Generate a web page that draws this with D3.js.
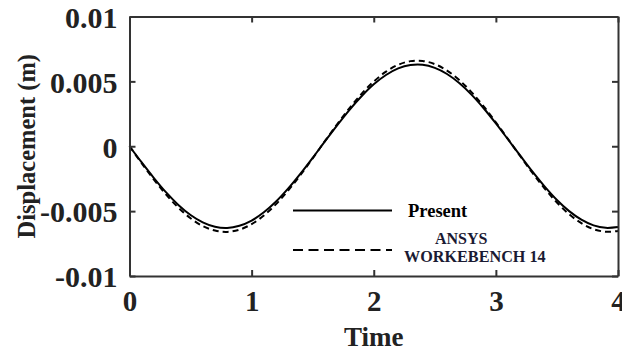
<!DOCTYPE html>
<html>
<head>
<meta charset="utf-8">
<script src="https://cdn.jsdelivr.net/npm/d3@7"></script>
<style>
  body { margin: 0; background: #fff; }
  svg { display: block; }
  text { font-family: "Liberation Serif", "Times New Roman", serif; font-weight: bold; }
</style>
</head>
<body>
<svg id="chart" width="622" height="351"></svg>
<script>
// data
const time = [0, 0.1, 0.2, 0.3, 0.4, 0.5, 0.6, 0.7, 0.8, 0.9,
  1.0, 1.1, 1.2, 1.3, 1.4, 1.5, 1.6, 1.7, 1.8, 1.9,
  2.0, 2.1, 2.2, 2.3, 2.4, 2.5, 2.6, 2.7, 2.8, 2.9,
  3.0, 3.1, 3.2, 3.3, 3.4, 3.5, 3.6, 3.7, 3.8, 3.9, 4.0];
const present = [0, -0.00125, -0.00245, -0.00356, -0.00452, -0.00530, -0.00587, -0.00621, -0.00630, -0.00613,
  -0.00573, -0.00509, -0.00426, -0.00325, -0.00211, -0.00089, 0.00037, 0.00161, 0.00279, 0.00385,
  0.00477, 0.00549, 0.00600, 0.00626, 0.00628, 0.00604, 0.00557, 0.00487, 0.00398, 0.00293,
  0.00176, 0.00052, -0.00073, -0.00196, -0.00311, -0.00414, -0.00500, -0.00566, -0.00610, -0.00629, -0.00623];
const ansys = [0, -0.00131, -0.00257, -0.00373, -0.00473, -0.00555, -0.00615, -0.00650, -0.00660, -0.00643,
  -0.00600, -0.00534, -0.00446, -0.00340, -0.00221, -0.00093, 0.00039, 0.00169, 0.00292, 0.00404,
  0.00499, 0.00575, 0.00628, 0.00656, 0.00657, 0.00633, 0.00583, 0.00510, 0.00417, 0.00307,
  0.00184, 0.00055, -0.00077, -0.00206, -0.00326, -0.00434, -0.00524, -0.00593, -0.00639, -0.00659, -0.00653];
const xTicks = [0, 1, 2, 3, 4];
const yTicks = [-0.01, -0.005, 0, 0.005, 0.01];
const yTickLabels = ["-0.01", "-0.005", "0", "0.005", "0.01"];

const svg = d3.select("#chart");
const margin = { top: 16.5, right: 4, bottom: 75, left: 129.5 };
const width = 622, height = 351;

const x = d3.scaleLinear().domain([0, 4]).range([margin.left, width - margin.right]);
const y = d3.scaleLinear().domain([-0.01, 0.01]).range([height - margin.bottom, margin.top]);

const axisColor = "#333";

// curves
const line = d3.line().x((d, i) => x(time[i])).y(d => y(d)).curve(d3.curveCatmullRom);

svg.append("path").datum(ansys)
  .attr("d", line).attr("fill", "none")
  .attr("stroke", "#000").attr("stroke-width", 2)
  .attr("stroke-dasharray", "6,4");

svg.append("path").datum(present)
  .attr("d", line).attr("fill", "none")
  .attr("stroke", "#000").attr("stroke-width", 2);

// axes (box with inward ticks)
const tickLen = 6;
svg.append("g").attr("transform", `translate(0,${y(-0.01)})`)
  .call(d3.axisBottom(x).tickValues(xTicks).tickSizeInner(-tickLen).tickSizeOuter(0).tickPadding(14).tickFormat(d3.format("d")))
  .call(g => g.selectAll("text").attr("font-size", 29).attr("fill", "#222"));
svg.append("g").attr("transform", `translate(0,${y(0.01)})`)
  .call(d3.axisTop(x).tickValues(xTicks).tickSizeInner(-tickLen).tickSizeOuter(0).tickFormat(""));
svg.append("g").attr("transform", `translate(${x(0)},0)`)
  .call(d3.axisLeft(y).tickValues(yTicks).tickSizeInner(-tickLen).tickSizeOuter(0).tickPadding(12)
    .tickFormat((d, i) => yTickLabels[i]))
  .call(g => g.selectAll("text").attr("font-size", 30).attr("fill", "#222").attr("dy", "0.36em"));
svg.append("g").attr("transform", `translate(${x(4)},0)`)
  .call(d3.axisRight(y).tickValues(yTicks).tickSizeInner(-tickLen).tickSizeOuter(0).tickFormat(""));

svg.selectAll(".domain, .tick line").attr("stroke", axisColor).attr("stroke-width", 2);

// axis titles
svg.append("text")
  .attr("x", (x(0) + x(4)) / 2).attr("y", 346)
  .attr("text-anchor", "middle").attr("font-size", 27).attr("fill", "#222")
  .text("Time");
svg.append("text")
  .attr("transform", `translate(35,${y(0)}) rotate(-90)`)
  .attr("text-anchor", "middle").attr("font-size", 24.5).attr("fill", "#222")
  .text("Displacement (m)");

// legend
const legend = svg.append("g");
legend.append("line").attr("x1", 293).attr("x2", 392).attr("y1", 210.5).attr("y2", 210.5)
  .attr("stroke", "#000").attr("stroke-width", 2);
legend.append("text").attr("x", 408).attr("y", 217).attr("font-size", 18.5).attr("fill", "#000").text("Present");
legend.append("line").attr("x1", 293).attr("x2", 392).attr("y1", 250).attr("y2", 250)
  .attr("stroke", "#000").attr("stroke-width", 2).attr("stroke-dasharray", "10,5.5");
legend.append("text").attr("x", 435).attr("y", 244).attr("font-size", 16).attr("fill", "#1a1a33").text("ANSYS");
legend.append("text").attr("x", 404).attr("y", 262).attr("font-size", 16.2).attr("fill", "#1a1a33").text("WORKEBENCH 14");
</script>
</body>
</html>
